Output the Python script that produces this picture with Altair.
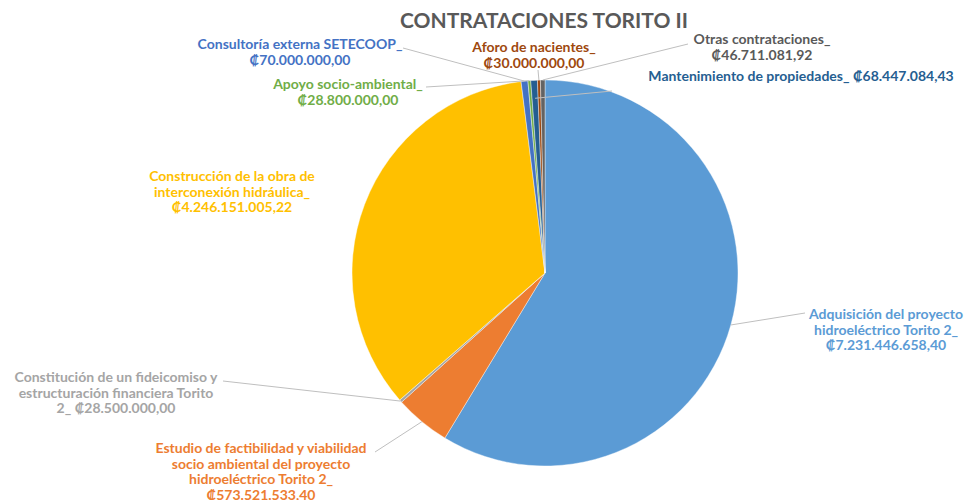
import math
import altair as alt
import pandas as pd

# ---------------- data ----------------
title_text = "CONTRATACIONES  TORITO II"
categories = [
    "Adquisición del proyecto hidroeléctrico Torito 2",
    "Estudio de factibilidad y viabilidad socio ambiental del proyecto hidroeléctrico Torito 2",
    "Constitución de un fideicomiso y estructuración financiera Torito 2",
    "Construcción de la obra de interconexión hidráulica",
    "Consultoría externa SETECOOP",
    "Apoyo socio-ambiental",
    "Mantenimiento de propiedades",
    "Aforo de nacientes",
    "Otras contrataciones",
]
values = [7231446658.40, 573521533.40, 28500000.00, 4246151005.22, 70000000.00,
          28800000.00, 68447084.43, 30000000.00, 46711081.92]
label_texts = [
    "Adquisición del proyecto\nhidroeléctrico Torito 2_\n₡7.231.446.658,40",
    "Estudio de factibilidad y viabilidad\nsocio ambiental del proyecto\nhidroeléctrico Torito 2_\n₡573.521.533,40",
    "Constitución de un fideicomiso y\nestructuración financiera Torito\n2_  ₡28.500.000,00",
    "Construcción de la obra de\ninterconexión hidráulica_\n₡4.246.151.005,22",
    "Consultoría  externa SETECOOP_\n₡70.000.000,00",
    "Apoyo socio-ambiental_\n₡28.800.000,00",
    "Mantenimiento de propiedades_  ₡68.447.084,43",
    "Aforo de nacientes_\n₡30.000.000,00",
    "Otras contrataciones_\n₡46.711.081,92",
]

# ---------------- styles / layout ----------------
slice_colors = ["#5B9BD5", "#ED7D31", "#A5A5A5", "#FFC000", "#4472C4",
                "#70AD47", "#255E91", "#9E480E", "#636363"]
label_colors = ["#5B9BD5", "#ED7D31", "#A5A5A5", "#FFC000", "#4472C4",
                "#70AD47", "#255E91", "#9E480E", "#595959"]
label_x = [886, 261, 116, 232, 300, 348, 801, 534, 762]
label_y = [315, 449, 378, 177, 45, 85, 77, 48, 40]   # first-line centres
leader_start = [(805, 313), (375, 452), (223, 381), None, (403, 48),
                (426, 87), (612, 91), (538, 70), (688, 44)]
leader_inset = [0, 0, 0, 0, 0, 0, 18, 0, 0]
CX, CY, R = 545, 273, 193
FONT = "Lato"

# ---------------- tables ----------------
pie_df = pd.DataFrame({"cat": categories, "value": values, "idx": list(range(len(values)))})

lab_df = pd.DataFrame({"txt": label_texts, "x": label_x, "y": label_y, "col": label_colors})

total = sum(values)
rows = []
cum = 0.0
for i, v in enumerate(values):
    mid = (cum + v / 2) / total * 2 * math.pi
    cum += v
    if leader_start[i] is None:
        continue
    r = R - leader_inset[i]
    ex = CX + r * math.sin(mid)
    ey = CY - r * math.cos(mid)
    sx, sy = leader_start[i]
    rows.append({"x": sx, "y": sy, "x2": ex, "y2": ey})
lead_df = pd.DataFrame(rows)

# ---------------- chart ----------------
arcs = alt.Chart(pie_df).mark_arc(outerRadius=R, stroke="white", strokeWidth=0.4).encode(
    theta=alt.Theta("value:Q", stack=True),
    order=alt.Order("idx:Q"),
    color=alt.Color("cat:N", scale=alt.Scale(domain=categories, range=slice_colors), legend=None),
    x=alt.value(CX),
    y=alt.value(CY),
)

leaders = alt.Chart(lead_df).mark_rule(color="#BFBFBF", strokeWidth=1).encode(
    x=alt.X("x:Q", scale=None),
    y=alt.Y("y:Q", scale=None),
    x2="x2:Q",
    y2="y2:Q",
)

labels = alt.Chart(lab_df).mark_text(
    font=FONT, fontSize=14, fontWeight="bold", lineBreak="\n", lineHeight=15.7,
    align="center", baseline="middle",
).encode(
    x=alt.X("x:Q", scale=None),
    y=alt.Y("y:Q", scale=None),
    text="txt:N",
    color=alt.Color("col:N", scale=None),
)

title = alt.Chart(pd.DataFrame({"t": [title_text]})).mark_text(
    font=FONT, fontSize=21, fontWeight="bold", color="#595959", align="center", baseline="middle",
).encode(text="t:N", x=alt.value(544), y=alt.value(22))

chart = alt.layer(arcs, leaders, labels, title).properties(
    width=968, height=500, padding=0, autosize="none", background="white"
).configure_view(stroke=None)

chart.save("out.html", embed_options={"renderer": "svg", "actions": False})
